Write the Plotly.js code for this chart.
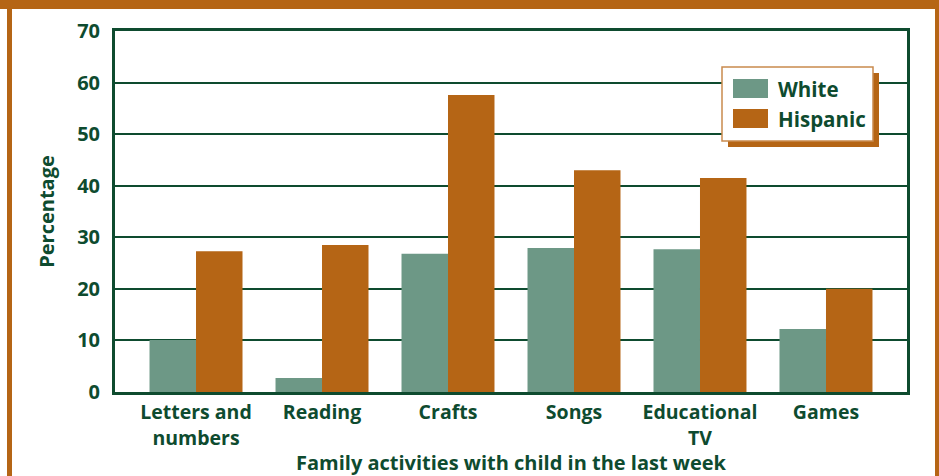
<!DOCTYPE html>
<html>
<head>
<meta charset="utf-8">
<script src="https://cdn.plot.ly/plotly-3.0.1.min.js"></script>
<style>html,body{margin:0;padding:0;background:#fff;}#chart{width:939px;height:476px;}</style>
</head>
<body>
<div id="chart"></div>
<script>
const categories = ["Letters and<br>numbers", "Reading", "Crafts", "Songs", "Educational<br>TV", "Games"];
const seriesNames = ["White", "Hispanic"];
const whiteValues = [10.1, 2.7, 26.8, 27.9, 27.7, 12.2];
const hispanicValues = [27.3, 28.5, 57.6, 43.0, 41.5, 20.0];
const yTicks = [0, 10, 20, 30, 40, 50, 60, 70];

const GREEN = "#0E4B2F";
const WHITE_C = "#6D9886";
const HISP_C = "#B56515";
const FONT = "Open Sans, Noto Sans, sans-serif";

// plot area in pixels
const L = 115, R = 907, T = 31, B = 392, W = 939, H = 476;
const px = x => (x - L) / (R - L);
const py = y => (B - y) / (B - T);

const traces = [
  {type: "bar", name: seriesNames[0], x: categories, y: whiteValues, marker: {color: WHITE_C}, showlegend: false, hoverinfo: "none"},
  {type: "bar", name: seriesNames[1], x: categories, y: hispanicValues, marker: {color: HISP_C}, showlegend: false, hoverinfo: "none"}
];

const shapes = [
  // orange frame
  {type: "rect", xref: "paper", yref: "paper", x0: px(-5), x1: px(W + 5), y0: py(0) + 0.02, y1: py(9), fillcolor: HISP_C, line: {width: 0}, layer: "above"},
  {type: "rect", xref: "paper", yref: "paper", x0: px(7), x1: px(12), y0: py(9), y1: py(H + 5), fillcolor: HISP_C, line: {width: 0}, layer: "above"},
  {type: "rect", xref: "paper", yref: "paper", x0: px(935), x1: px(W + 5), y0: py(9), y1: py(H + 5), fillcolor: HISP_C, line: {width: 0}, layer: "above"},
  // legend shadow and box
  {type: "rect", xref: "paper", yref: "paper", x0: px(728), x1: px(879), y0: py(73), y1: py(147), fillcolor: HISP_C, line: {width: 0}, layer: "above"},
  {type: "rect", xref: "paper", yref: "paper", x0: px(722), x1: px(873), y0: py(67), y1: py(141), fillcolor: "#ffffff", line: {color: "#C98A4E", width: 1.5}, layer: "above"},
  // swatches
  {type: "rect", xref: "paper", yref: "paper", x0: px(733), x1: px(768), y0: py(79), y1: py(98), fillcolor: traces[0].marker.color, line: {width: 0}, layer: "above"},
  {type: "rect", xref: "paper", yref: "paper", x0: px(733), x1: px(768), y0: py(109), y1: py(128), fillcolor: traces[1].marker.color, line: {width: 0}, layer: "above"}
];

const annotations = [
  {xref: "paper", yref: "paper", x: px(776), y: py(88.5), text: seriesNames[0], showarrow: false, xanchor: "left", yanchor: "middle", font: {family: FONT, size: 20.5, color: GREEN, weight: 700}},
  {xref: "paper", yref: "paper", x: px(776), y: py(118.5), text: seriesNames[1], showarrow: false, xanchor: "left", yanchor: "middle", font: {family: FONT, size: 20.5, color: GREEN, weight: 700}}
];

const layout = {
  width: W, height: H,
  margin: {l: L, r: W - R, t: T, b: H - B, pad: 0},
  paper_bgcolor: "#ffffff", plot_bgcolor: "#ffffff",
  barmode: "group", bargap: 0.262, bargroupgap: 0,
  font: {family: FONT, color: GREEN, weight: 700},
  xaxis: {
    range: [-0.643, 5.643], showgrid: false, zeroline: false,
    showline: true, linecolor: GREEN, linewidth: 3, mirror: true,
    ticks: "outside", ticklen: 1, tickcolor: "rgba(0,0,0,0)",
    tickfont: {family: FONT, size: 19.5, color: GREEN, weight: 700},
    title: {text: "Family activities with child in the last week", standoff: 5, font: {family: FONT, size: 20, color: GREEN, weight: 700}},
    fixedrange: true
  },
  yaxis: {
    range: [0, 70], tickvals: yTicks, ticktext: yTicks.map(String),
    showgrid: true, gridcolor: GREEN, gridwidth: 2, zeroline: false,
    showline: true, linecolor: GREEN, linewidth: 3, mirror: true,
    ticks: "outside", ticklen: 8, tickcolor: "rgba(0,0,0,0)",
    tickfont: {family: FONT, size: 20, color: GREEN, weight: 700},
    title: {text: "Percentage", standoff: 18, font: {family: FONT, size: 20, color: GREEN, weight: 700}},
    fixedrange: true
  },
  shapes: shapes,
  annotations: annotations
};

Plotly.newPlot("chart", traces, layout, {displayModeBar: false, staticPlot: true});
</script>
</body>
</html>
